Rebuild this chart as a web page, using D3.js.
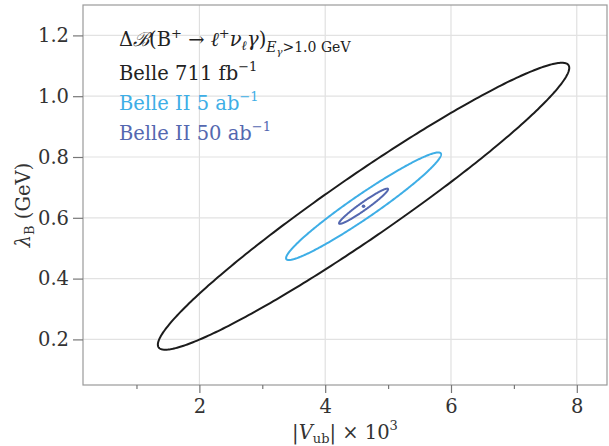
<!DOCTYPE html>
<html>
<head>
<meta charset="utf-8">
<script src="https://cdn.jsdelivr.net/npm/d3@7"></script>
<style>
	body { margin: 0; background: #fff; }
	text { font-family: "DejaVu Serif", serif; }
</style>
</head>
<body>
<svg id="chart" width="609" height="446"></svg>
<script>
// best fit point (|Vub| x 10^3, lambda_B in GeV)
var vubCenter = 4.61;
var lambdaCenter = 0.638;

// one ellipse per data set
var experiments = ["Belle", "Belle II", "Belle II"];
var lumiValues = ["711", "5", "50"];
var lumiUnits = ["fb", "ab", "ab"];
var vubHalfRange = [3.27, 1.232, 0.39];
var lambdaHalfRange = [0.472, 0.177, 0.058];
var correlations = [0.964, 0.964, 0.964];

var xMajorTicks = [2, 4, 6, 8];
var xMinorTicks = [1, 3, 5, 7];
var yTicks = [0.2, 0.4, 0.6, 0.8, 1.0, 1.2];

var colors = ["#1c1c1c", "#3eaee6", "#5468b0"];
var serif = "DejaVu Serif, serif";

var svg = d3.select("#chart");

var x = d3.scaleLinear().domain([0.15, 8.48]).range([83, 607]);
var y = d3.scaleLinear().domain([0.05, 1.3]).range([385, 5]);

// grid
svg.append("g").selectAll("line").data(xMajorTicks).enter().append("line")
	.attr("x1", function (d) { return x(d); })
	.attr("x2", function (d) { return x(d); })
	.attr("y1", y.range()[0])
	.attr("y2", y.range()[1])
	.style("stroke", "#dadada")
	.style("stroke-width", 1);

svg.append("g").selectAll("line").data(yTicks).enter().append("line")
	.attr("x1", x.range()[0])
	.attr("x2", x.range()[1])
	.attr("y1", function (d) { return y(d); })
	.attr("y2", function (d) { return y(d); })
	.style("stroke", "#e2e2e2")
	.style("stroke-width", 1.2);

// frame
svg.append("rect")
	.attr("x", x.range()[0])
	.attr("y", y.range()[1])
	.attr("width", x.range()[1] - x.range()[0])
	.attr("height", y.range()[0] - y.range()[1])
	.style("fill", "none")
	.style("stroke", "#9a9a9a")
	.style("stroke-width", 1.2);

// axes
svg.append("g")
	.attr("transform", "translate(0," + y.range()[0] + ")")
	.call(d3.axisBottom(x).tickValues(xMajorTicks).tickFormat(d3.format("d")).tickSize(8).tickPadding(6));

svg.append("g")
	.attr("transform", "translate(0," + y.range()[0] + ")")
	.call(d3.axisBottom(x).tickValues(xMinorTicks).tickFormat("").tickSize(4));

svg.append("g")
	.attr("transform", "translate(" + x.range()[0] + ",0)")
	.call(d3.axisLeft(y).tickValues(yTicks).tickFormat(d3.format(".1f")).tickSize(10).tickPadding(4));

svg.selectAll(".domain").remove();
svg.selectAll(".tick line").style("stroke", "#777").style("stroke-width", 1.2);
svg.selectAll(".tick text")
	.style("font-family", serif)
	.style("font-size", "19.5px")
	.style("fill", "#333");

// ellipses
var angles = d3.range(0, 361, 1).map(function (d) { return d * Math.PI / 180; });

var line = d3.line()
	.x(function (d) { return x(d[0]); })
	.y(function (d) { return y(d[1]); })
	.curve(d3.curveLinearClosed);

experiments.forEach(function (name, i) {
	var rho = correlations[i];
	var pts = angles.map(function (t) {
		return [
			vubCenter + vubHalfRange[i] * Math.cos(t),
			lambdaCenter + lambdaHalfRange[i] * (rho * Math.cos(t) + Math.sqrt(1 - rho * rho) * Math.sin(t))
		];
	});
	svg.append("path")
		.attr("d", line(pts))
		.style("fill", "none")
		.style("stroke", colors[i])
		.style("stroke-width", 2);
});

svg.append("circle")
	.attr("cx", x(vubCenter))
	.attr("cy", y(lambdaCenter))
	.attr("r", 1.8)
	.style("fill", colors[2]);

// legend
var legend = svg.append("g").style("font-size", "19.5px");

var title = legend.append("text").attr("x", 119).attr("y", 46).style("fill", "#222");
title.append("tspan").text("Δ");
title.append("tspan").style("font-style", "italic").text("ℬ");
title.append("tspan").text("(B");
title.append("tspan").attr("dy", -8).style("font-size", "13px").text("+");
title.append("tspan").attr("dy", 8).text(" → ");
title.append("tspan").style("font-style", "italic").text("ℓ");
title.append("tspan").attr("dy", -8).style("font-size", "13px").text("+");
title.append("tspan").attr("dy", 8).style("font-style", "italic").text("ν");
title.append("tspan").attr("dy", 4).style("font-size", "13px").style("font-style", "italic").text("ℓ");
title.append("tspan").attr("dy", -4).style("font-style", "italic").text("γ");
title.append("tspan").text(")");
title.append("tspan").attr("dy", 6).style("font-size", "14px").style("font-style", "italic").text("E");
title.append("tspan").attr("dy", 3).style("font-size", "10px").style("font-style", "italic").text("γ");
title.append("tspan").attr("dy", -3).style("font-size", "14px").text(">1.0 GeV");

var legendY = [80, 110, 140];
experiments.forEach(function (name, i) {
	var t = legend.append("text")
		.attr("x", 119)
		.attr("y", legendY[i])
		.style("fill", i == 0 ? "#222" : colors[i]);
	t.append("tspan").text(name + " " + lumiValues[i] + " " + lumiUnits[i]);
	t.append("tspan").attr("dy", -9).style("font-size", "13px").text("−1");
});

// axis labels
var xl = svg.append("text")
	.attr("x", 345)
	.attr("y", 439)
	.style("text-anchor", "middle")
	.style("font-size", "19.5px")
	.style("fill", "#333");
xl.append("tspan").text("|");
xl.append("tspan").style("font-style", "italic").text("V");
xl.append("tspan").attr("dy", 4).style("font-size", "13px").text("ub");
xl.append("tspan").attr("dy", -4).text("| × 10");
xl.append("tspan").attr("dy", -9).style("font-size", "13px").text("3");

var yl = svg.append("text")
	.attr("transform", "translate(30,205) rotate(-90)")
	.style("text-anchor", "middle")
	.style("font-size", "19.5px")
	.style("fill", "#333");
yl.append("tspan").style("font-style", "italic").text("λ");
yl.append("tspan").attr("dy", 4).style("font-size", "13px").text("B");
yl.append("tspan").attr("dy", -4).text(" (GeV)");
</script>
</body>
</html>
